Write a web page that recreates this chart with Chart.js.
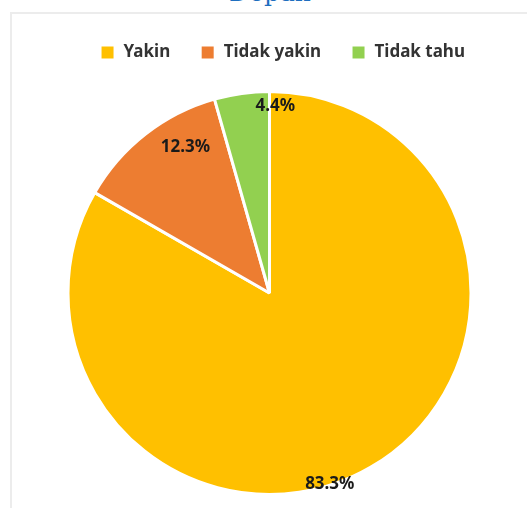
<!DOCTYPE html>
<html>
<head>
<meta charset="utf-8">
<script src="https://cdn.jsdelivr.net/npm/chart.js@4"></script>
<style>
  html, body { margin: 0; padding: 0; background: #fff; overflow: hidden; }
  body { width: 527px; height: 508px; position: relative; }
  #judul {
    position: absolute; left: 0; width: 540px; top: -22px; text-align: center;
    font-family: "DejaVu Serif", "Liberation Serif", serif; font-size: 25px; color: #1f6fbf;
  }
  #kotak {
    position: absolute; left: 10px; top: 12px; width: 530px; height: 510px;
    border: 2px solid #ececec; box-sizing: border-box; background: #fff;
  }
  #wrap { position: absolute; left: 12px; top: 14px; width: 515px; height: 494px; }
</style>
</head>
<body>
<div id="judul">Depan</div>
<div id="kotak"></div>
<div id="wrap"><canvas id="chartPie"></canvas></div>
<script>
var categories = ["Yakin", "Tidak yakin", "Tidak tahu"];
var percentValues = [83.3, 12.3, 4.4];
var percentLabels = ["83.3%", "12.3%", "4.4%"];
var sliceColors = ["#FFC000", "#ED7D31", "#92D050"];

// label letak ala Excel (sudut dalam derajat dari atas, jari-jari relatif)
var labelSpot = {
  id: "labelSpot",
  afterDatasetsDraw(chart, args, opts) {
    var ctx = chart.ctx;
    var meta = chart.getDatasetMeta(0);
    ctx.save();
    ctx.font = "bold 17px 'Noto Sans', 'DejaVu Sans', sans-serif";
    ctx.fillStyle = "#1a1a1a";
    ctx.textAlign = "center";
    ctx.textBaseline = "middle";
    meta.data.forEach((arc, i) => {
      var p = arc.getProps(["x", "y", "outerRadius"], true);
      var spot = opts.spots[i];
      var a = (spot.deg - 90) * Math.PI / 180;
      var r = p.outerRadius * spot.r;
      ctx.fillText(percentLabels[i], p.x + Math.cos(a) * r, p.y + Math.sin(a) * r);
    });
    ctx.restore();
  },
};

// tinggi legenda tetap + geser sedikit ke kanan seperti aslinya
var legendShift = {
  id: "legendShift",
  beforeInit(chart, args, opts) {
    var fit = chart.legend.fit;
    chart.legend.fit = function () {
      fit.bind(chart.legend)();
      this.height = opts.height;
    };
  },
  afterLayout(chart, args, opts) {
    chart.legend.left += opts.dx;
    chart.legend.right += opts.dx;
  },
};

var ctxPie = document.getElementById("chartPie").getContext("2d");
var chartPie = new Chart(ctxPie, {
  type: "pie",
  data: {
    labels: categories,
    datasets: [
      {
        data: percentValues,
        backgroundColor: sliceColors,
        borderColor: "#ffffff",
        borderWidth: 3,
      },
    ],
  },
  plugins: [labelSpot, legendShift],
  options: {
    responsive: true,
    maintainAspectRatio: false,
    animation: false,
    layout: { padding: { top: 0, bottom: 12, left: 0, right: 0 } },
    plugins: {
      tooltip: { enabled: false },
      legend: {
        position: "top",
        labels: {
          boxWidth: 15,
          boxHeight: 15,
          padding: 30,
          color: "#333333",
          font: { family: "'Noto Sans', 'DejaVu Sans', sans-serif", size: 17, weight: "bold" },
        },
      },
      labelSpot: {
        spots: [
          { deg: 162.5, r: 0.995 },
          { deg: 330, r: 0.835 },
          { deg: 1.8, r: 0.93 },
        ],
      },
      legendShift: { dx: 13, height: 76 },
    },
  },
});
</script>
</body>
</html>
